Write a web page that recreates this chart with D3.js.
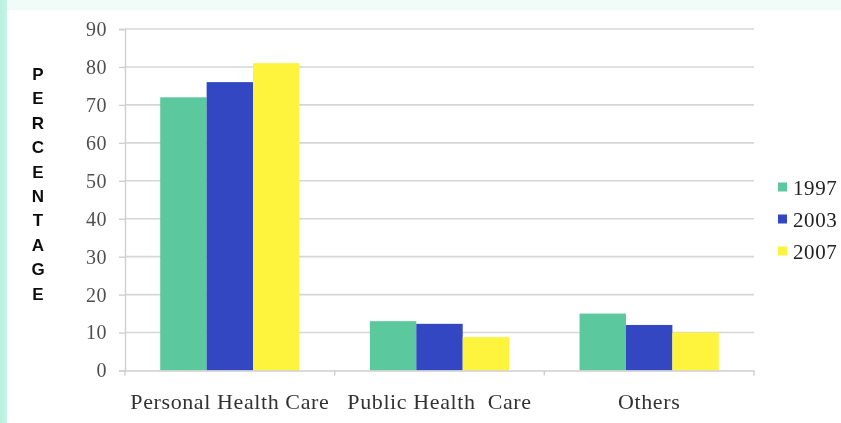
<!DOCTYPE html>
<html>
<head>
<meta charset="utf-8">
<script src="https://cdn.jsdelivr.net/npm/d3@7/dist/d3.min.js"></script>
<style>
  html, body { margin: 0; padding: 0; background: #ffffff; }
  svg { display: block; }
</style>
</head>
<body>
<svg id="chart" width="841" height="423"></svg>
<script>
// Share of health expenditure by type, three survey years
const categories = ["Personal Health Care", "Public Health  Care", "Others"];
const years = ["1997", "2003", "2007"];
const values1997 = [72, 13, 15];
const values2003 = [76, 12.3, 12];
const values2007 = [81, 8.8, 10];
const yTicks = [0, 10, 20, 30, 40, 50, 60, 70, 80, 90];
const axisTitle = "PERCENTAGE";
const colors = ["#5cc89d", "#3147c1", "#fff43c"];

const seriesValues = [values1997, values2003, values2007];

const svg = d3.select("#chart");
const W = 841, H = 423;
const serif = "'Liberation Serif', 'Times New Roman', serif";

// page backdrop: mint margin strips around a white panel
const defs = svg.append("defs");
const lg = defs.append("linearGradient").attr("id", "edge").attr("x1", 0).attr("x2", 1);
lg.append("stop").attr("offset", "0%").attr("stop-color", "#b8f0de");
lg.append("stop").attr("offset", "100%").attr("stop-color", "#c8f3e6");
defs.append("filter").attr("id", "soft")
  .append("feGaussianBlur").attr("stdDeviation", 0.6);

svg.append("rect").attr("width", W).attr("height", H).attr("fill", "#f1fbf8");
svg.append("rect").attr("x", 0).attr("y", 0).attr("width", 7).attr("height", H).attr("fill", "url(#edge)");
svg.append("rect").attr("x", 7).attr("y", 10).attr("width", W - 7).attr("height", H - 10).attr("fill", "#ffffff");

const plot = { left: 125, right: 754, top: 29, bottom: 370.5 };

const x = d3.scaleBand().domain(categories).range([plot.left, plot.right]);
const y = d3.scaleLinear().domain([0, 90]).range([plot.bottom, plot.top]);
const inner = d3.scaleBand().domain(years).range([x.bandwidth() * 0.168, x.bandwidth() * 0.832]);

const g = svg.append("g").attr("filter", "url(#soft)");

// horizontal gridlines
g.append("g").selectAll("line").data(yTicks.filter(t => t > 0)).join("line")
  .attr("x1", plot.left).attr("x2", plot.right)
  .attr("y1", d => y(d)).attr("y2", d => y(d))
  .attr("stroke", "#d6d6d6").attr("stroke-width", 1.6);

// y axis
const yAxis = g.append("g").attr("transform", `translate(${plot.left},0)`)
  .call(d3.axisLeft(y).tickValues(yTicks).tickSize(6).tickPadding(12));
yAxis.select(".domain").attr("stroke", "#cfcfcf").attr("stroke-width", 1.4);
yAxis.selectAll(".tick line").attr("stroke", "#cfcfcf").attr("stroke-width", 1.4);
yAxis.selectAll("text")
  .attr("font-family", serif)
  .attr("font-size", 20).attr("fill", "#505050")
  .attr("letter-spacing", 0.5);

// bars
const groups = g.append("g").selectAll("g").data(categories).join("g")
  .attr("transform", d => `translate(${x(d)},0)`);
groups.selectAll("rect")
  .data((c, ci) => years.map((yr, si) => ({ yr, si, v: seriesValues[si][ci] })))
  .join("rect")
  .attr("x", d => inner(d.yr))
  .attr("width", inner.bandwidth())
  .attr("y", d => y(d.v))
  .attr("height", d => y(0) - y(d.v))
  .attr("fill", d => colors[d.si]);

// x axis
const xAxis = g.append("g").attr("transform", `translate(0,${plot.bottom})`)
  .call(d3.axisBottom(x).tickSize(0).tickPadding(23));
xAxis.select(".domain").attr("stroke", "#cfcfcf").attr("stroke-width", 1.4);
xAxis.selectAll("text")
  .attr("font-family", serif)
  .attr("font-size", 22).attr("fill", "#333")
  .attr("letter-spacing", 0.6)
  .style("white-space", "pre");
// category boundary tick marks
g.append("g").selectAll("line")
  .data(categories.map(c => x(c)).concat([plot.right])).join("line")
  .attr("x1", d => d).attr("x2", d => d)
  .attr("y1", plot.bottom).attr("y2", plot.bottom + 5)
  .attr("stroke", "#cfcfcf").attr("stroke-width", 1.4);

// vertical stacked axis title
g.append("g").selectAll("text").data(axisTitle.split("")).join("text")
  .attr("x", 38).attr("y", (d, i) => 80 + i * 24.4)
  .attr("text-anchor", "middle")
  .attr("font-family", "'Liberation Sans', Arial, sans-serif")
  .attr("font-weight", "bold").attr("font-size", 17).attr("fill", "#111")
  .text(d => d);

// legend
const legend = g.append("g").selectAll("g").data(years).join("g")
  .attr("transform", (d, i) => `translate(778,${187 + i * 32})`);
legend.append("rect").attr("x", 0).attr("y", -4.5).attr("width", 9).attr("height", 9)
  .attr("fill", (d, i) => colors[i]);
legend.append("text").attr("x", 15).attr("y", 8)
  .attr("font-family", serif)
  .attr("font-size", 21).attr("fill", "#222")
  .attr("letter-spacing", 0.6)
  .text(d => d);
</script>
</body>
</html>
